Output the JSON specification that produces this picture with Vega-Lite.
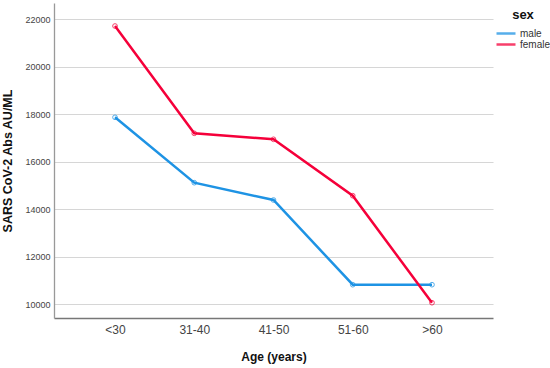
{
  "$schema": "https://vega.github.io/schema/vega-lite/v6.json",
  "autosize": {"type": "none"},
  "width": 439,
  "height": 315,
  "padding": {"left": 54, "top": 3, "right": 57, "bottom": 50},
  "background": "white",
  "config": {
    "view": {"stroke": null},
    "font": "Liberation Sans"
  },
  "data": {
    "values": [
      {"age": "<30", "sex": "male", "value": 17867},
      {"age": "31-40", "sex": "male", "value": 15116},
      {"age": "41-50", "sex": "male", "value": 14388},
      {"age": "51-60", "sex": "male", "value": 10825},
      {"age": ">60", "sex": "male", "value": 10825},
      {"age": "<30", "sex": "female", "value": 21708},
      {"age": "31-40", "sex": "female", "value": 17194},
      {"age": "41-50", "sex": "female", "value": 16942},
      {"age": "51-60", "sex": "female", "value": 14569},
      {"age": ">60", "sex": "female", "value": 10067}
    ]
  },
  "encoding": {
    "x": {
      "field": "age",
      "type": "ordinal",
      "sort": ["<30", "31-40", "41-50", "51-60", ">60"],
      "scale": {"type": "point", "padding": 0.77},
      "axis": {
        "title": "Age (years)",
        "titleFont": "Liberation Sans",
        "titleFontSize": 12,
        "titleFontWeight": "bold",
        "titleColor": "#111",
        "titlePadding": 16,
        "labelFontSize": 12,
        "labelColor": "#444",
        "labelPadding": 6,
        "labelAngle": 0,
        "ticks": false,
        "grid": false,
        "domainColor": "#777",
        "domainWidth": 1.3
      }
    },
    "y": {
      "field": "value",
      "type": "quantitative",
      "scale": {"domain": [9424, 22676], "nice": false, "zero": false},
      "axis": {
        "title": "SARS CoV-2 Abs AU/ML",
        "titleFontSize": 12.5,
        "titleFontWeight": "bold",
        "titleColor": "#111",
        "titlePadding": 10,
        "values": [10000, 12000, 14000, 16000, 18000, 20000, 22000],
        "format": "d",
        "labelFontSize": 9,
        "labelColor": "#444",
        "labelPadding": 4,
        "ticks": false,
        "grid": true,
        "gridColor": "#d6d6d6",
        "gridWidth": 1.2,
        "domainColor": "#999",
        "domainWidth": 1.3
      }
    },
    "color": {
      "field": "sex",
      "type": "nominal",
      "sort": ["male", "female"],
      "scale": {"domain": ["male", "female"], "range": ["#1E93E4", "#F5003A"]},
      "legend": {
        "orient": "none",
        "legendX": 441,
        "legendY": 6,
        "title": "sex",
        "titleFontSize": 13,
        "titleFontWeight": "bold",
        "titleColor": "#111",
        "titleAnchor": "middle",
        "titlePadding": 6,
        "symbolType": "stroke",
        "symbolSize": 361,
        "symbolStrokeWidth": 2.5,
        "clipHeight": 11,
        "labelFontSize": 10,
        "labelColor": "#333",
        "labelOffset": 3,
        "rowPadding": 0,
        "padding": 0
      }
    }
  },
  "layer": [
    {"mark": {"type": "line", "strokeWidth": 2.5}},
    {"mark": {"type": "point", "filled": false, "size": 22, "strokeWidth": 1, "opacity": 0.75}}
  ]
}
